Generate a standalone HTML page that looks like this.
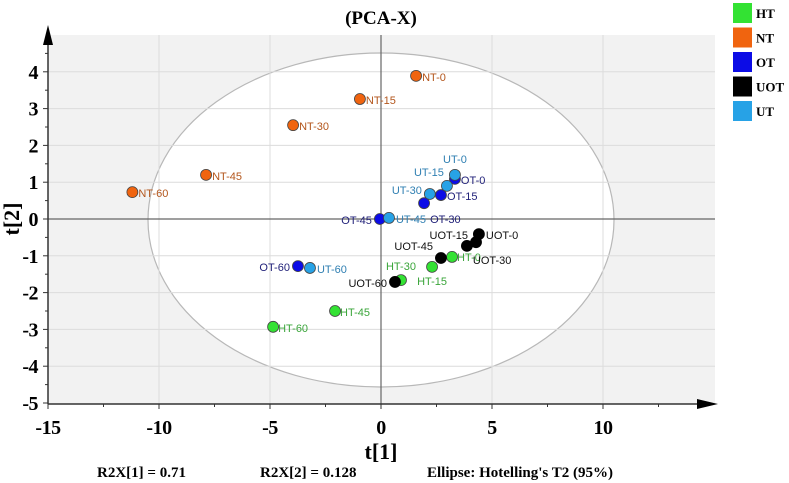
<!DOCTYPE html>
<html><head><meta charset="utf-8"><style>
html,body{margin:0;padding:0;background:#fff;width:789px;height:483px;overflow:hidden}
svg{display:block}
text{font-family:"Liberation Sans",sans-serif}
.serif{font-family:"Liberation Serif",serif;font-weight:bold}
</style></head><body>
<svg id="chart" width="789" height="483"></svg>
<script>
const seriesNames=["HT","NT","OT","UOT","UT"];
const seriesColors=["#33e233","#f0640f","#0c0ce6","#000000","#27a2e6"];
const labelColors=["#3aa53a","#b3561c","#22227a","#111111","#2f7fb2"];
const htX=[3.2,2.3,0.9,-2.07,-4.86];
const htY=[-1.03,-1.3,-1.66,-2.5,-2.93];
const ntX=[1.58,-0.95,-3.96,-7.88,-11.2];
const ntY=[3.89,3.26,2.55,1.2,0.73];
const otX=[3.33,2.7,1.94,-0.05,-3.74];
const otY=[1.09,0.65,0.43,0.0,-1.28];
const uotX=[4.41,4.28,3.87,2.7,0.63];
const uotY=[-0.41,-0.63,-0.73,-1.06,-1.71];
const utX=[3.33,2.97,2.2,0.36,-3.2];
const utY=[1.2,0.9,0.68,0.03,-1.33];
const timePoints=["0","15","30","45","60"];
const xTicks=[-15,-10,-5,0,5,10];
const yTicks=[4,3,2,1,0,-1,-2,-3,-4,-5];
const allX=[htX,ntX,otX,uotX,utX], allY=[htY,ntY,otY,uotY,utY];
const labelPos=[
 [[5,4,"start"],[0,18,"middle"],[0,-10,"middle"],[5,5,"start"],[5,5,"start"]],
 [[6,5,"start"],[6,5,"start"],[6,5,"start"],[6,5,"start"],[6,5,"start"]],
 [[6,5,"start"],[6,5,"start"],[6,20,"start"],[-8,5,"end"],[-8,5,"end"]],
 [[7,5,"start"],[-8,-3,"end"],[6,18,"start"],[-8,-8,"end"],[-8,5,"end"]],
 [[0,-12,"middle"],[-3,-10,"end"],[-8,0,"end"],[7,5,"start"],[7,5,"start"]]
];
const NS="http://www.w3.org/2000/svg";
const svg=document.getElementById('chart');
const X0=48,X1=715,Y0=35,Y1=404;
const sx=v=>381+v*22.2, sy=v=>219-v*36.8;
function el(t,a,p){const e=document.createElementNS(NS,t);for(const k in a)e.setAttribute(k,a[k]);(p||svg).appendChild(e);return e;}
const bg=el('rect',{x:X0,y:Y0,width:X1-X0,height:Y1-Y0,fill:'#f2f2f2'});


const ell=el('ellipse',{cx:sx(0),cy:sy(0)+1,rx:233,ry:167,fill:'#fff',stroke:'#b8b8b8','stroke-width':1.2});


xTicks.forEach(t=>{if(t!==-15&&t!==0){const g=el('line',{x1:sx(t),x2:sx(t),y1:Y0,y2:Y1,stroke:'#dcdcdc'});

}});
yTicks.forEach(t=>{if(t!==-5&&t!==0){const g=el('line',{x1:X0,x2:X1,y1:sy(t),y2:sy(t),stroke:'#dcdcdc'});

}});
const zx=el('line',{x1:sx(0),x2:sx(0),y1:Y0,y2:Y1,stroke:'#666','stroke-width':1.2});


const zy=el('line',{x1:X0,x2:X1,y1:sy(0),y2:sy(0),stroke:'#666','stroke-width':1.2});


const ya=el('line',{x1:X0,x2:X0,y1:30,y2:Y1,stroke:'#333','stroke-width':1.5});


el('polygon',{points:`${X0-5},45 ${X0+5},45 ${X0},25`,fill:'#000'});
const xa=el('line',{x1:X0,x2:710,y1:Y1,y2:Y1,stroke:'#333','stroke-width':1.5});


el('polygon',{points:`697,${Y1-5} 697,${Y1+5} 718,${Y1}`,fill:'#000'});
for(let v=-15;v<=14;v+=2.5){el('line',{x1:sx(v),x2:sx(v),y1:Y1,y2:Y1+(v%5===0?5:3),stroke:'#333'});}
for(let v=-5;v<=4.5;v+=0.5){el('line',{x1:X0-(Number.isInteger(v)?5:3),x2:X0,y1:sy(v),y2:sy(v),stroke:'#333'});}
xTicks.forEach(t=>{const tx=el('text',{x:sx(t),y:434,'text-anchor':'middle','font-size':20,class:'serif','letter-spacing':-0.5});tx.textContent=t;

});
yTicks.forEach(t=>{const tx=el('text',{x:38,y:sy(t)+7,'text-anchor':'end','font-size':20,class:'serif','letter-spacing':-0.5});tx.textContent=t;

});
const title=el('text',{x:381,y:24,'text-anchor':'middle','font-size':19,class:'serif'});title.textContent='(PCA-X)';


const xt=el('text',{x:381,y:459,'text-anchor':'middle','font-size':22,class:'serif'});xt.textContent='t[1]';


const yt=el('text',{x:0,y:0,'text-anchor':'middle','font-size':22,class:'serif',transform:'translate(19,219) rotate(-90)'});yt.textContent='t[2]';


[["R2X[1] = 0.71",97],["R2X[2] = 0.128",260],["Ellipse: Hotelling's T2 (95%)",427]].forEach(f=>{const tx=el('text',{x:f[1],y:477,'font-size':15,class:'serif'});tx.textContent=f[0];

});
seriesNames.forEach((s,i)=>{
 allX[i].forEach((v,j)=>{
  const cx=sx(v),cy=sy(allY[i][j]);
  const c=el('circle',{cx,cy,r:5.5,fill:seriesColors[i],stroke:i===3?'#000':'#444','stroke-width':0.8});
  
  
  const lp=labelPos[i][j];
  const tx=el('text',{x:cx+lp[0],y:cy+lp[1],'text-anchor':lp[2],'font-size':11,fill:labelColors[i]});
  tx.textContent=s+'-'+timePoints[j];
  
  
 });
 const ly=3+i*24.5;
 const sq=el('rect',{x:733,y:ly,width:19,height:20,fill:seriesColors[i]});
 
 
 const lt=el('text',{x:756,y:ly+15,'font-size':13,class:'serif'});lt.textContent=s;
 
 
});
</script>
</body></html>
